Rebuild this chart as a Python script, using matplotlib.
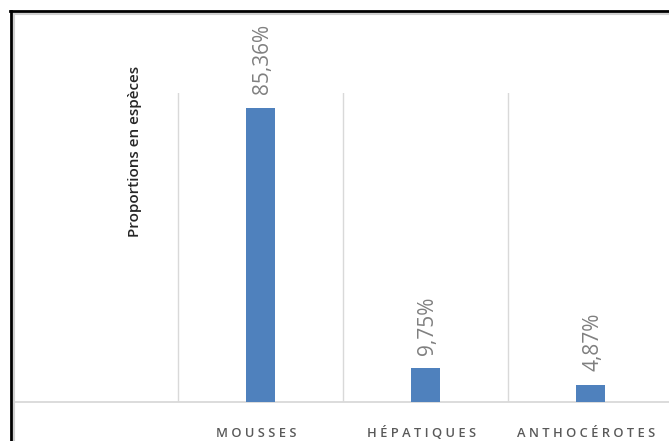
import matplotlib
matplotlib.use("Agg")
import matplotlib.pyplot as plt
from matplotlib.lines import Line2D

categories = ["MOUSSES", "HÉPATIQUES", "ANTHOCÉROTES"]
values = [85.36, 9.75, 4.87]
value_labels = ["85,36%", "9,75%", "4,87%"]
ylabel = "Proportions en espèces"

W, H = 669, 441
fig = plt.figure(figsize=(W / 100, H / 100), dpi=100)
fig.patch.set_facecolor("white")

def fx(px):
    return px / W

def fy(py):
    return 1 - py / H

ax = fig.add_axes([fx(15), fy(402), fx(669) - fx(15), fy(93) - fy(402)])
xs = list(range(len(categories)))
ax.bar(xs, values, width=0.178, color="#4f81bd", zorder=3)
ax.set_xlim(-1.488, 2.476)
ax.set_ylim(0, 89.7)

for s in ax.spines.values():
    s.set_visible(False)
ax.axhline(0, color="#d9d9d9", lw=1.3, zorder=2, clip_on=False)
for g in [-0.5, 0.5, 1.5]:
    ax.axvline(g, color="#d9d9d9", lw=1.0, zorder=1)
ax.set_yticks([])
ax.set_xticks([])

for x, v, lab in zip(xs, values, value_labels):
    ax.annotate(lab, (x, v), xytext=(1.5, 10), textcoords="offset points",
                rotation=90, ha="center", va="bottom", color="#808080",
                fontsize=15, family="Open Sans", annotation_clip=False)

for x, c in zip(xs, categories):
    ax.annotate(" ".join(c), (x, 0), xytext=(-3, -22.5), textcoords="offset points",
                ha="center", va="center", color="#595959", fontsize=9.3,
                fontweight="semibold", family="Open Sans", annotation_clip=False)

fig.text(fx(135), fy(151), ylabel, rotation=90, ha="center", va="center",
         fontsize=11, color="#262626", family="Open Sans", fontweight="semibold")

# frame lines
fig.add_artist(Line2D([fx(14), fx(14)], [fy(14), 0], color="#d0d0d0", lw=1.5))
fig.add_artist(Line2D([fx(14), 1], [fy(14), fy(14)], color="#d0d0d0", lw=1.5))
fig.add_artist(Line2D([fx(10.5), fx(10.5)], [fy(11), 0], color="black", lw=2))
fig.add_artist(Line2D([fx(9.5), 1], [fy(11), fy(11)], color="black", lw=2))

fig.savefig("out.png", dpi=100)
